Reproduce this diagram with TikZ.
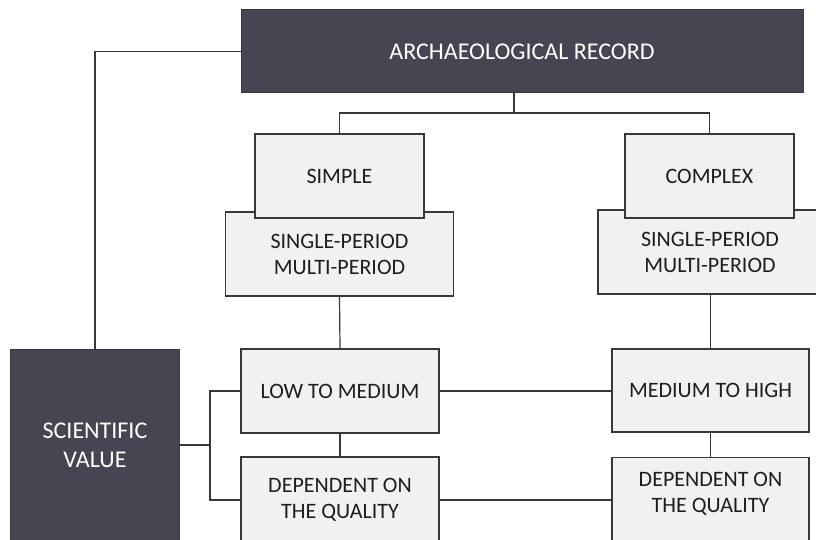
\documentclass[tikz,border=0pt]{standalone}
\usepackage{fontspec}
\setmainfont{Carlito}
\definecolor{darkc}{HTML}{464551}
\definecolor{lightc}{HTML}{F1F1F1}
\definecolor{linec}{HTML}{383838}
\definecolor{txtc}{HTML}{1E1E1E}
\begin{document}
\begin{tikzpicture}[x=1pt,y=-1pt,
  darkbox/.style={draw=linec, fill=darkc, text=white, line width=1pt, inner sep=0pt, align=center, font=\fontsize{24}{29}\selectfont},
  lightbox/.style={draw=linec, fill=lightc, text=txtc, line width=1.2pt, inner sep=0pt, align=center, font=\fontsize{22}{26}\selectfont},
  txt/.style={text=txtc, inner sep=0pt, align=center, font=\fontsize{22}{26}\selectfont},
  conn/.style={draw=linec, line width=1.2pt}]
\useasboundingbox (0,0) rectangle (816,540);
\clip (0,0) rectangle (816,540);
\fill[white] (0,0) rectangle (816,540);
% nodes
\node[darkbox, minimum width=562, minimum height=83] (arch) at (522,51.5) {ARCHAEOLOGICAL RECORD};
\node[lightbox, minimum width=228, minimum height=84] (single1) at (339.5,254) {SINGLE-PERIOD\\MULTI-PERIOD};
\node[lightbox, minimum width=224, minimum height=84] (single2) at (710,252) {SINGLE-PERIOD\\MULTI-PERIOD};
\node[lightbox, minimum width=169, minimum height=84] (simple) at (339.5,176) {SIMPLE};
\node[lightbox, minimum width=169, minimum height=84] (complex) at (709.5,176) {COMPLEX};
\node[lightbox, minimum width=198, minimum height=84] (low) at (340,391) {LOW TO MEDIUM};
\node[lightbox, minimum width=197, minimum height=83] (med) at (710.5,390.5) {MEDIUM TO HIGH};
\node[lightbox, minimum width=198, minimum height=86] (dep1) at (340,500) {DEPENDENT ON\\THE QUALITY};
\node[lightbox, minimum width=197, minimum height=100, anchor=north] (dep2) at (710.5,457) {};
\node[txt] (dep2t) at (710.5,494) {DEPENDENT ON\\THE QUALITY};
\node[darkbox, minimum width=169, minimum height=192] (sci) at (95,445) {SCIENTIFIC\\VALUE};
% connectors
\coordinate (split) at (514,113);
\coordinate (fork) at (210,445);
\draw[conn] (arch.west) -| (sci.north);
\draw[conn] (arch.south -| split) -- (split);
\draw[conn] (simple.north) |- (split) -| (complex.north);
\draw[conn] (single1.south) -- (low.north);
\draw[conn] (med.north |- single2.south) -- (med.north);
\draw[conn] (low.south) -- (dep1.north);
\draw[conn] (med.south) -- (dep2.north);
\draw[conn] (low.east) -- (low.east -| med.west);
\draw[conn] (dep1.east) -- (dep1.east -| dep2.west);
\draw[conn] (sci.east) -- (fork);
\draw[conn] (low.west) -| (fork);
\draw[conn] (dep1.west) -| (fork);
\end{tikzpicture}
\end{document}
